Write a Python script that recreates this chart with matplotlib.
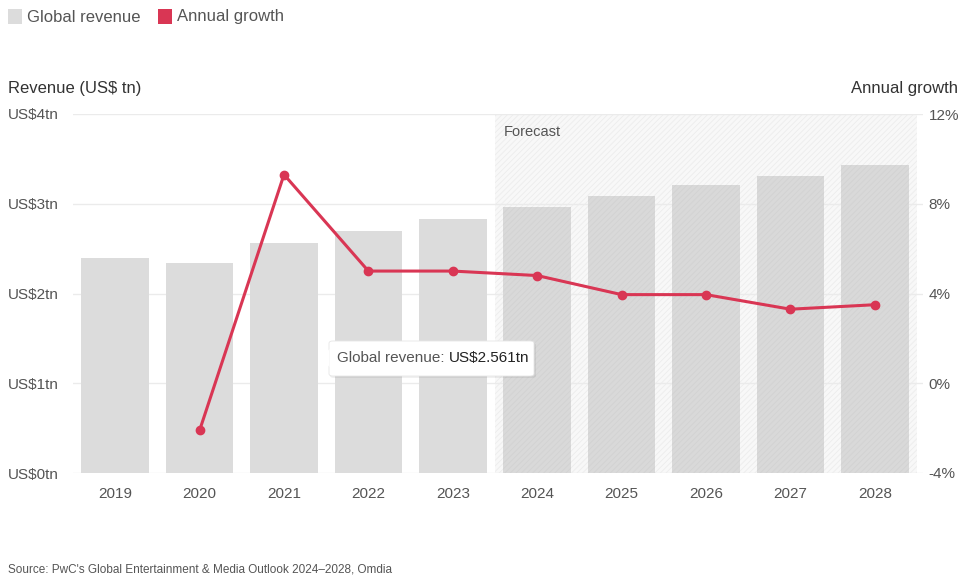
import matplotlib.pyplot as plt
from matplotlib.patches import Rectangle, FancyBboxPatch, Polygon

plt.rcParams['font.family'] = ['Liberation Sans', 'DejaVu Sans']
plt.rcParams['hatch.linewidth'] = 0.6

years = ['2019', '2020', '2021', '2022', '2023', '2024', '2025', '2026', '2027', '2028']
revenue = [2.39, 2.34, 2.561, 2.70, 2.83, 2.96, 3.09, 3.21, 3.31, 3.43]
growth = [None, -2.1, 9.3, 5.0, 5.0, 4.8, 3.95, 3.95, 3.3, 3.5]
rev_ticks = [0, 1, 2, 3, 4]
rev_labels = ['US$0tn', 'US$1tn', 'US$2tn', 'US$3tn', 'US$4tn']
growth_ticks = [-4, 0, 4, 8, 12]
growth_labels = ['-4%', '0%', '4%', '8%', '12%']
forecast_start = 5

BAR = '#dcdcdc'
RED = '#d93654'
GRID = '#ebebeb'
TXT = '#555555'

W, H = 961, 578
fig = plt.figure(figsize=(W / 100, H / 100), dpi=100)
ax = fig.add_axes([73 / W, 1 - 473 / H, (923 - 73) / W, (473 - 114) / H])
ax2 = ax.twinx()

x = list(range(len(years)))
ax.set_xlim(-0.5, 9.571)
ax.set_ylim(0, 4)

# forecast shaded + hatched region
ax.add_patch(Rectangle((forecast_start - 0.5, 0), len(years) - forecast_start, 4,
                       facecolor='#f8f8f8', edgecolor='#ececec', hatch='//////',
                       linewidth=0, zorder=0.5))
ax.text(forecast_start - 0.4, 3.8, 'Forecast', fontsize=10.5, color=TXT, va='center', zorder=3)

cols = [BAR if i < forecast_start else '#d9d9d9' for i in x]
bars = ax.bar(x, revenue, width=0.8, color=cols, zorder=1)
for i, b in enumerate(bars):
    if i >= forecast_start:
        b.set_hatch('//////')
        b.set_edgecolor('#d2d2d2')
        b.set_linewidth(0)

ax.set_yticks(rev_ticks)
ax.set_yticklabels(rev_labels)
ax.grid(axis='y', color=GRID, linewidth=1, zorder=0)
ax.set_axisbelow(True)
ax.tick_params(axis='y', length=0, pad=46.8, labelsize=11, labelcolor=TXT)
for lab in ax.get_yticklabels():
    lab.set_ha('left')
ax.set_xticks(x)
ax.set_xticklabels(years)
ax.tick_params(axis='x', length=0, pad=10, labelsize=11, labelcolor=TXT)
for s in ax.spines.values():
    s.set_visible(False)

# growth line
gx = [i for i, g in zip(x, growth) if g is not None]
gy = [g for g in growth if g is not None]
ax2.set_ylim(-4, 12)
ax2.plot(gx, gy, color=RED, linewidth=2.2, marker='o', markersize=6, zorder=4)
ax2.set_yticks(growth_ticks)
ax2.set_yticklabels(growth_labels)
ax2.tick_params(axis='y', length=0, pad=4, labelsize=11, labelcolor=TXT)
for s in ax2.spines.values():
    s.set_visible(False)

# axis titles
fig.text(8 / W, 1 - 88 / H, 'Revenue (US$ tn)', fontsize=12, color='#333333', va='center')
fig.text(958 / W, 1 - 88 / H, 'Annual growth', fontsize=12, color='#333333', va='center', ha='right')

# legend
fig.patches.append(Rectangle((8 / W, 1 - 24 / H), 14 / W, 15 / H, transform=fig.transFigure,
                             facecolor=BAR, edgecolor='none'))
fig.text(27 / W, 1 - 17 / H, 'Global revenue', fontsize=12, color=TXT, va='center')
fig.patches.append(Rectangle((158 / W, 1 - 24 / H), 14 / W, 15 / H, transform=fig.transFigure,
                             facecolor=RED, edgecolor='none'))
fig.text(177 / W, 1 - 17 / H, 'Annual growth', fontsize=12, color=TXT, va='center')

# tooltip (soft shadow, box, pointer)
fig.patches.append(FancyBboxPatch((330 / W, 1 - 378 / H), 206 / W, 35 / H, transform=fig.transFigure,
                                  boxstyle='round,pad=0,rounding_size=0.004', facecolor='#000000',
                                  alpha=0.06, edgecolor='none', zorder=4))
fig.patches.append(FancyBboxPatch((329 / W, 1 - 376 / H), 205 / W, 35 / H, transform=fig.transFigure,
                                  boxstyle='round,pad=0,rounding_size=0.004', facecolor='white',
                                  edgecolor='#e6e6e6', linewidth=0.6, zorder=5))
fig.patches.append(Polygon([(329.5 / W, 1 - 349 / H), (321 / W, 1 - 358 / H), (329.5 / W, 1 - 367 / H)],
                           closed=True, transform=fig.transFigure, facecolor='white',
                           edgecolor='none', zorder=6))
t1 = fig.text(337 / W, 1 - 358 / H, 'Global revenue: ', fontsize=11, color=TXT, va='center', zorder=7)
fig.canvas.draw()
bb = t1.get_window_extent()
fig.text(bb.x1 / W, 1 - 358 / H, 'US$2.561tn', fontsize=11, color='#222222', va='center', zorder=7)

fig.text(8 / W, 1 - 570 / H, "Source: PwC's Global Entertainment & Media Outlook 2024\u20132028, Omdia",
         fontsize=8.5, color=TXT, va='center')

fig.savefig('out.png', dpi=100)
